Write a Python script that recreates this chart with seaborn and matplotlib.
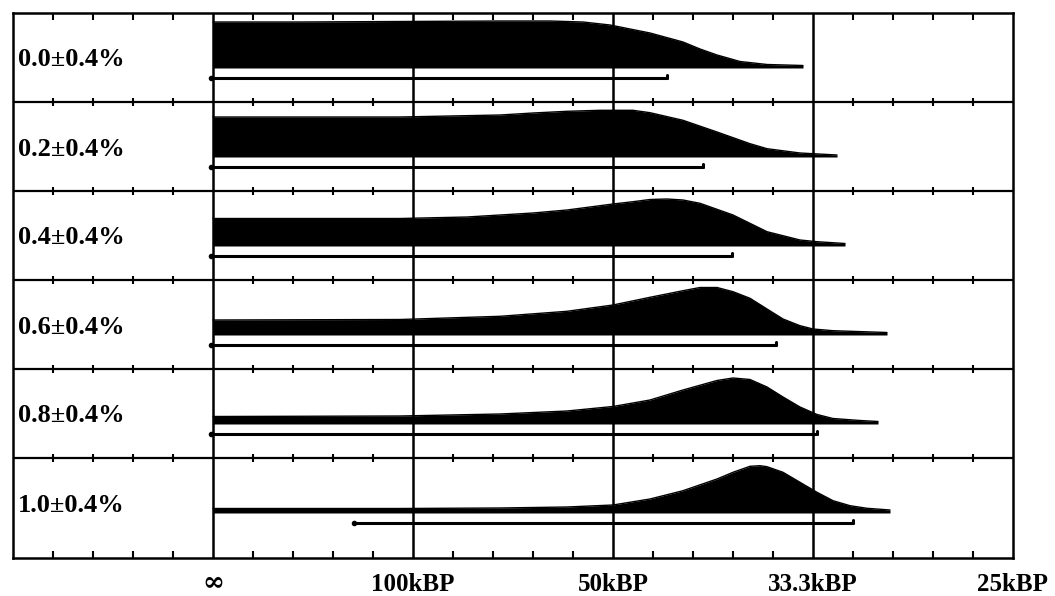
import numpy as np
import matplotlib
matplotlib.use("Agg")
import matplotlib.pyplot as plt
import seaborn as sns

# ---------------- data ----------------
# x axis is linear in 1/age, unit = 1e-3 per kyr  (0 = infinity, 10 = 100 kBP ...)
row_labels = ["0.0±0.4%", "0.2±0.4%", "0.4±0.4%", "0.6±0.4%", "0.8±0.4%", "1.0±0.4%"]
tick_pos = [0, 10, 20, 30, 40]
tick_labels = ["∞", "100kBP", "50kBP", "33.3kBP", "25kBP"]

dens_x_0 = [0, 4.35, 9.35, 14.35, 16.85, 18.5, 19.85, 21.85, 23.5, 24.35, 25.2, 26.35, 27.7, 29.5]
dens_h_0 = [46, 46, 46.5, 47, 47, 46, 43, 35, 26, 19, 13, 6.5, 3.5, 2.5]

dens_x_1 = [0, 9.35, 14.35, 16.0, 17.7, 19.35, 21.0, 21.85, 23.5, 25.2, 26.85, 27.7, 29.35, 31.2]
dens_h_1 = [40, 40, 42, 44, 45.7, 46.7, 46.7, 44.3, 36.7, 25, 13.3, 8.3, 4, 2]

dens_x_2 = [0, 9.35, 12.7, 16.0, 17.7, 20.0, 21.0, 21.85, 22.7, 23.5, 24.35, 26.0, 27.7, 29.35, 30.2, 31.6]
dens_h_2 = [27.5, 27.5, 29, 33, 36, 42, 44.3, 46.5, 47, 46, 42.7, 31, 14.3, 6, 4.3, 2.5]

dens_x_3 = [0, 9.35, 14.35, 17.7, 20.0, 21.85, 23.5, 24.35, 25.2, 26.0, 26.85, 27.7, 28.5, 29.35, 30.0, 31.0, 33.7]
dens_h_3 = [15, 15.5, 18.7, 23.7, 30, 37.7, 44.3, 47.5, 47.5, 43.3, 36.7, 26, 16, 9.3, 6, 4.3, 2.5]

dens_x_4 = [0, 9.35, 14.35, 17.7, 20.0, 21.85, 23.5, 25.2, 26.0, 26.85, 27.7, 28.5, 29.35, 30.2, 31.0, 32.35, 33.25]
dens_h_4 = [7.5, 8, 10, 13, 17.5, 24, 34, 43.5, 46, 44.5, 37, 27, 17, 9.5, 5.5, 3.5, 2.5]

dens_x_5 = [0, 9.35, 14.35, 17.7, 20.0, 21.85, 23.5, 25.2, 26.0, 26.85, 27.35, 27.7, 28.5, 29.35, 30.2, 31.0, 31.85, 32.7, 33.85]
dens_h_5 = [4.5, 4.5, 5, 6, 8, 14, 22.3, 34, 40.7, 46.7, 47.3, 46.3, 40.7, 30.7, 20.7, 12.3, 7.3, 4.7, 3]

range_start = [0, 0, 0, 0, 0, 7.15]
range_end = [22.7, 24.5, 25.95, 28.15, 30.2, 32.0]

dens_x = [dens_x_0, dens_x_1, dens_x_2, dens_x_3, dens_x_4, dens_x_5]
dens_h = [dens_h_0, dens_h_1, dens_h_2, dens_h_3, dens_h_4, dens_h_5]

# ---------------- style / layout ----------------
sns.set_style("white")
plt.rcParams["font.family"] = ["Liberation Serif", "DejaVu Serif"]

ROW_H = 89
BASE_OFF = 55
BAR_OFF = 65
LABEL_OFF = 47
n_rows = len(row_labels)

fig = plt.figure(figsize=(10.55, 5.96), dpi=100)
ax = fig.add_axes([13 / 1055, 38 / 596, 1000 / 1055, 545 / 596])
ax.set_xlim(-10, 40)
ax.set_ylim(545, 0)

minor = [v for v in np.arange(-10, 40.01, 2) if abs(v % 10) > 1e-6 and abs(v % 10 - 10) > 1e-6]

# vertical grid lines
for v in tick_pos[:-1]:
    ax.axvline(v, color="black", lw=1.8, zorder=1)

# separators with small tick marks
for i in range(1, n_rows):
    y = i * ROW_H
    ax.axhline(y, color="black", lw=1.6, zorder=1)
    sns.scatterplot(x=minor, y=[y] * len(minor), marker="|", s=30, color="black",
                    linewidth=1.5, ax=ax, zorder=2, legend=False)

# densities, ranges, labels
for i in range(n_rows):
    base = i * ROW_H + BASE_OFF
    x = np.array(dens_x[i])
    h = np.array(dens_h[i])
    ax.fill_between(x, base, base - h, color="black", lw=0, zorder=3)
    sns.lineplot(x=x, y=base - h, ax=ax, color="black", lw=1.0, sort=False, zorder=3)
    yb = base + BAR_OFF - BASE_OFF
    ax.plot([range_start[i], range_end[i]], [yb, yb], color="black", lw=2.2,
            solid_capstyle="round", zorder=3)
    ax.plot([range_start[i] - 0.1], [yb], "o", color="black", ms=3, zorder=3)
    ax.plot([range_end[i], range_end[i]], [yb, yb - 3], color="black", lw=2.2,
            solid_capstyle="round", zorder=3)
    ax.text(-9.75, i * ROW_H + LABEL_OFF, row_labels[i], ha="left", va="center",
            fontsize=19, fontweight="bold", color="black")

# axes frame and ticks
for s in ax.spines.values():
    s.set_visible(True)
    s.set_color("black")
    s.set_linewidth(1.8)
ax.set_yticks([])
ax.set_xticks(tick_pos)
ax.set_xticklabels([])
ax.set_xticks(minor, minor=True)
ax.tick_params(which="major", length=0)
ax.tick_params(which="minor", direction="in", length=5, width=1.5, top=True, bottom=True,
               color="black")
ax.set_xlabel("")
ax.set_ylabel("")

for pos, lab in zip(tick_pos, tick_labels):
    if lab == "∞":
        ax.annotate(lab, xy=(pos, 0), xycoords=("data", "axes fraction"), xytext=(0, -26),
                    textcoords="offset points", ha="center", va="bottom",
                    fontsize=19, fontweight="bold", color="black",
                    family=["DejaVu Serif"], annotation_clip=False)
    else:
        ax.annotate(lab, xy=(pos, 0), xycoords=("data", "axes fraction"), xytext=(0, -19),
                    textcoords="offset points", ha="center", va="center",
                    fontsize=18, fontweight="bold", color="black",
                    annotation_clip=False)

fig.savefig("out.png", dpi=100)
